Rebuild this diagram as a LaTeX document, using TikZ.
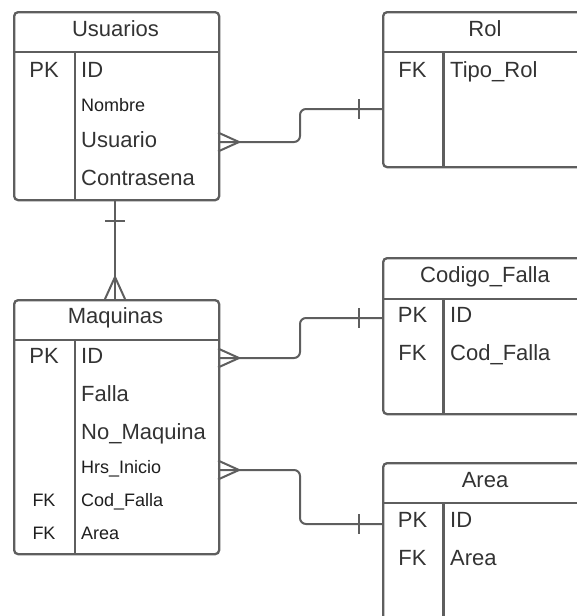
\documentclass[tikz,border=0pt]{standalone}
\usepackage{fontspec}
\setmainfont{Liberation Sans}
\definecolor{lc}{HTML}{5E5E5E}
\definecolor{tc}{HTML}{333333}
\definecolor{tc2}{HTML}{1E1E1E}
\begin{document}
\begin{tikzpicture}[x=1pt,y=-1pt,
  ln/.style={draw=lc, line width=2pt},
  tbl/.style={draw=lc, line width=2.3pt, rounded corners=4pt, inner sep=0pt, anchor=north west},
  big/.style={font=\fontsize{22}{26}\selectfont, text=tc, inner sep=0pt},
  small/.style={font=\fontsize{18}{22}\selectfont, text=tc2, inner sep=0pt},
  fld/.style={anchor=base west},
  key/.style={anchor=base},
  ttl/.style={big, anchor=base}
]
\useasboundingbox (0,0) rectangle (577,616);
\clip (0,0) rectangle (577,616);

% ---------- Usuarios ----------
\node[tbl, minimum width=205pt, minimum height=188pt] (usu) at (13,11) {};
\draw[ln, line width=2.3pt] (13,52) -- (218,52);
\draw[ln, line width=2.3pt] (75,52) -- (75,199);
\node[ttl] (usuT) at (115.5,36) {Usuarios};
\node[big, key] (usuK1) at (44,77) {PK};
\node[big, fld] (usuF1) at (81,77) {ID};
\node[small, fld] (usuF2) at (81,111) {Nombre};
\node[big, fld] (usuF3) at (81,147) {Usuario};
\node[big, fld] (usuF4) at (81,185.5) {Contrasena};

% ---------- Rol ----------
\node[tbl, minimum width=206pt, minimum height=155pt] (rol) at (382,11) {};
\draw[ln, line width=2.3pt] (382,52) -- (588,52);
\draw[ln, line width=2.3pt] (443.5,52) -- (443.5,166);
\node[ttl] (rolT) at (485,36) {Rol};
\node[big, key] (rolK1) at (412.5,77) {FK};
\node[big, fld] (rolF1) at (450,77) {Tipo\_Rol};

% ---------- Maquinas ----------
\node[tbl, minimum width=205pt, minimum height=254pt] (maq) at (13,299) {};
\draw[ln, line width=2.3pt] (13,340) -- (218,340);
\draw[ln, line width=2.3pt] (75,340) -- (75,553);
\node[ttl] (maqT) at (115.5,323.3) {Maquinas};
\node[big, key] (maqK1) at (44,363.3) {PK};
\node[big, fld] (maqF1) at (81,363.3) {ID};
\node[big, fld] (maqF2) at (81,401) {Falla};
\node[big, fld] (maqF3) at (81,439.3) {No\_Maquina};
\node[small, fld] (maqF4) at (81,473.3) {Hrs\_Inicio};
\node[small, key] (maqK5) at (44,506.7) {FK};
\node[small, fld] (maqF5) at (81,506.7) {Cod\_Falla};
\node[small, key] (maqK6) at (44,539) {FK};
\node[small, fld] (maqF6) at (81,539) {Area};

% ---------- Codigo_Falla ----------
\node[tbl, minimum width=206pt, minimum height=156pt] (cod) at (382,257) {};
\draw[ln, line width=2.3pt] (382,299) -- (588,299);
\draw[ln, line width=2.3pt] (443.5,299) -- (443.5,413);
\node[ttl] (codT) at (485,282.7) {Codigo\_Falla};
\node[big, key] (codK1) at (412.5,322.7) {PK};
\node[big, fld] (codF1) at (450,322.7) {ID};
\node[big, key] (codK2) at (412.5,360) {FK};
\node[big, fld] (codF2) at (450,360) {Cod\_Falla};

% ---------- Area ----------
\node[tbl, minimum width=206pt, minimum height=180pt] (are) at (382,462) {};
\draw[ln, line width=2.3pt] (382,503) -- (588,503);
\draw[ln, line width=2.3pt] (443.5,503) -- (443.5,642);
\node[ttl] (areT) at (485,487.7) {Area};
\node[big, key] (areK1) at (412.5,527.7) {PK};
\node[big, fld] (areF1) at (450,527.7) {ID};
\node[big, key] (areK2) at (412.5,565) {FK};
\node[big, fld] (areF2) at (450,565) {Area};

% ---------- Connectors ----------
\coordinate (u-r) at (218,142);
\coordinate (r-u) at (382,109);
\draw[ln, rounded corners=6pt] (u-r) -- ++(82,0) |- (r-u);
\draw[ln] (u-r) ++(0,-9.5) -- ++(21,9.5) -- ++(-21,9.5);
\draw[ln] (r-u) ++(-23,-10) -- ++(0,20);

\coordinate (u-m) at (115,199);
\coordinate (m-u) at (115,299);
\draw[ln] (u-m) -- (m-u);
\draw[ln] (u-m) ++(-10,22) -- ++(20,0);
\draw[ln] (m-u) ++(-10,0) -- ++(10,-22) -- ++(10,22);

\coordinate (m-c) at (218,358);
\coordinate (c-m) at (382,318);
\draw[ln, rounded corners=6pt] (m-c) -- ++(82,0) |- (c-m);
\draw[ln] (m-c) ++(0,-9.5) -- ++(21,9.5) -- ++(-21,9.5);
\draw[ln] (c-m) ++(-23,-10) -- ++(0,20);

\coordinate (m-a) at (218,470);
\coordinate (a-m) at (382,524);
\draw[ln, rounded corners=6pt] (m-a) -- ++(82,0) |- (a-m);
\draw[ln] (m-a) ++(0,-9.5) -- ++(21,9.5) -- ++(-21,9.5);
\draw[ln] (a-m) ++(-23,-10) -- ++(0,20);
\end{tikzpicture}
\end{document}
